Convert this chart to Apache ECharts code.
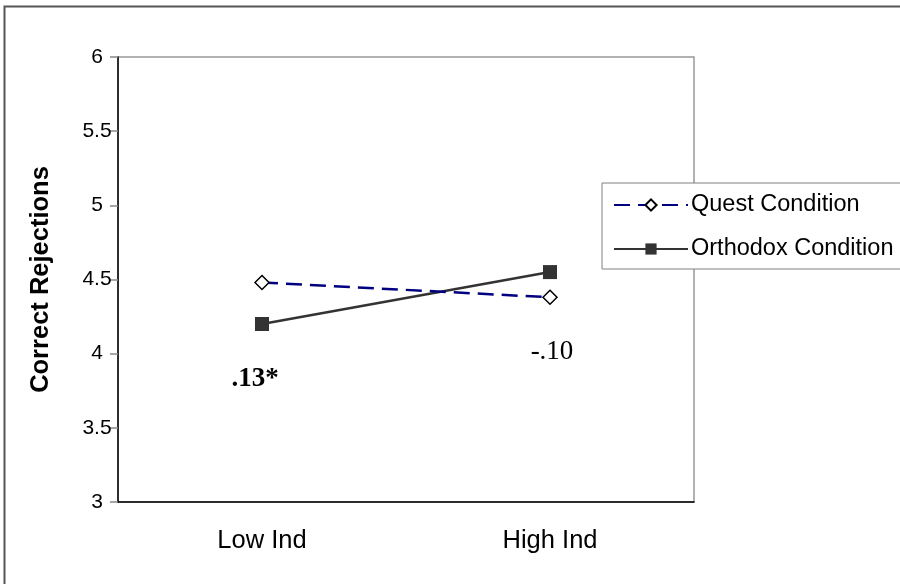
<!DOCTYPE html>
<html>
<head>
<meta charset="utf-8">
<script src="https://cdn.jsdelivr.net/npm/echarts@6/dist/echarts.min.js"></script>
<style>
	html, body { margin: 0; padding: 0; background: #fff; }
	#chart { width: 900px; height: 584px; }
</style>
</head>
<body>
<div id="chart"></div>
<script>
// 数据
var categories = ['Low Ind', 'High Ind'];
var questData = [4.48, 4.38];
var orthodoxData = [4.20, 4.55];
var seriesNames = ['Quest Condition', 'Orthodox Condition'];
var yTitle = 'Correct Rejections';

(function() {
	// 1.实例化对象
	var myChart = echarts.init(document.getElementById('chart'));
	// 2.配置项
	var option = {
		animation: false,
		backgroundColor: '#fff',
		grid: {
			left: 118,
			top: 57,
			right: 206,
			bottom: 82,
			show: true,
			borderColor: '#999',
			borderWidth: 1.5
		},
		legend: {
			orient: 'vertical',
			left: 602,
			top: 183,
			padding: [10, 40, 8, 11],
			itemWidth: 74,
			itemHeight: 14,
			itemGap: 20,
			backgroundColor: '#fff',
			borderColor: '#808080',
			borderWidth: 1,
			textStyle: {
				color: '#000',
				fontFamily: 'Liberation Sans',
				fontSize: 23.5,
				padding: [0, 0, 0, -2]
			},
			data: seriesNames
		},
		xAxis: {
			type: 'category',
			data: categories,
			boundaryGap: true,
			axisLine: { lineStyle: { color: '#000', width: 1.5 } },
			axisTick: { length: 8, lineStyle: { color: '#888', width: 1.5 } },
			axisLabel: {
				color: '#000',
				fontFamily: 'Liberation Sans',
				fontSize: 25.5,
				margin: 26
			}
		},
		yAxis: {
			type: 'value',
			min: 3,
			max: 6,
			interval: 0.5,
			name: yTitle,
			nameLocation: 'middle',
			nameGap: 64,
			nameTextStyle: {
				color: '#000',
				fontFamily: 'Liberation Sans',
				fontWeight: 'bold',
				fontSize: 25.5
			},
			axisLine: { show: true, lineStyle: { color: '#000', width: 1.5 } },
			axisTick: { show: true, length: 8, lineStyle: { color: '#888', width: 1.5 } },
			splitLine: { show: false },
			axisLabel: {
				color: '#000',
				fontFamily: 'Liberation Sans',
				fontSize: 21,
				align: 'center',
				margin: 21
			}
		},
		series: [{
				name: seriesNames[0],
				type: 'line',
				data: questData,
				symbol: 'diamond',
				symbolSize: 14,
				lineStyle: { color: '#000080', width: 2.5, type: [16, 8] },
				itemStyle: { color: '#fff', borderColor: '#000', borderWidth: 1.5 },
				z: 3
			},
			{
				name: seriesNames[1],
				type: 'line',
				data: orthodoxData,
				symbol: 'rect',
				symbolSize: 14,
				lineStyle: { color: '#333', width: 2.5 },
				itemStyle: { color: '#333' },
				z: 2
			}
		],
		graphic: [
			// 外边框
			{
				type: 'rect',
				shape: { x: 4.5, y: 6.5, width: 905, height: 600 },
				style: { fill: 'none', stroke: '#555', lineWidth: 2 },
				silent: true
			},
			// 系数标注
			{
				type: 'text',
				x: 255,
				y: 379,
				style: {
					text: '.13*',
					fill: '#000',
					font: 'bold 27px "Liberation Serif"',
					textAlign: 'center',
					textVerticalAlign: 'middle'
				}
			},
			{
				type: 'text',
				x: 552,
				y: 352,
				style: {
					text: '-.10',
					fill: '#000',
					font: '27px "Liberation Serif"',
					textAlign: 'center',
					textVerticalAlign: 'middle'
				}
			}
		]
	};
	// 3.把配置给实例对象
	myChart.setOption(option);
})();
</script>
</body>
</html>
